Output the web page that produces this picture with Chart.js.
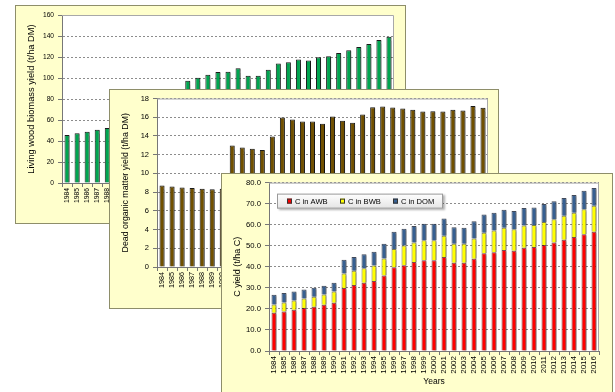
<!DOCTYPE html>
<html lang="en">
<head>
<meta charset="UTF-8">
<title>Biomass and carbon yield</title>
<script src="https://cdn.jsdelivr.net/npm/chart.js"></script>
<style>
    body {
        margin: 0;
        background: #fff;
        width: 615px;
        height: 392px;
        overflow: hidden;
        position: relative;
    }
    .panel {
        position: absolute;
        box-sizing: border-box;
        background: #ffffcc;
        border: 1px solid #8e8e6a;
    }
    .panel canvas {
        position: absolute;
        left: 0;
        top: 0;
    }
    #p1 { left: 15px; top: 5px; width: 391px; height: 219px; }
    #p2 { left: 109px; top: 89px; width: 390px; height: 220px; }
    #p3 { left: 221px; top: 173px; width: 392px; height: 222px; }
</style>
</head>
<body>
<div class="panel" id="p1"><canvas id="living" width="389" height="217"></canvas></div>
<div class="panel" id="p2"><canvas id="dead" width="388" height="218"></canvas></div>
<div class="panel" id="p3"><canvas id="carbon" width="390" height="220"></canvas></div>

<script>
    const years = ['1984', '1985', '1986', '1987', '1988', '1989', '1990', '1991', '1992', '1993', '1994',
        '1995', '1996', '1997', '1998', '1999', '2000', '2001', '2002', '2003', '2004', '2005',
        '2006', '2007', '2008', '2009', '2010', '2011', '2012', '2013', '2014', '2015', '2016'];

    // t/ha DM (1989-1995 are hidden behind the second chart, rough guesses)
    const livingWood = [45.7, 47.3, 48.9, 50.8, 52.4, 54, 57, 74, 76, 79, 81, 87,
        97.5, 100.3, 103.1, 105.7, 106.0, 109.4, 102.2, 102.2, 107.9, 113.9, 115.1, 117.6,
        116.7, 119.8, 120.8, 123.9, 126.5, 129.6, 132.4, 136.2, 139.4];

    const deadOrganic = [8.70, 8.59, 8.48, 8.45, 8.37, 8.30, 8.37, 12.97, 12.76, 12.62, 12.51,
        13.93, 15.97, 15.75, 15.54, 15.54, 15.29, 16.07, 15.61, 15.40, 16.29, 17.07, 17.14,
        17.03, 16.93, 16.79, 16.61, 16.64, 16.61, 16.79, 16.71, 17.21, 17.00];

    // t/ha C
    const cAWB = [18.2, 18.8, 19.6, 20.4, 21.0, 22.0, 22.9, 29.9, 31.3, 32.4, 33.3, 35.9,
        39.8, 40.8, 42.3, 43.1, 43.1, 44.7, 41.9, 41.9, 43.8, 46.4, 46.9, 48.0, 47.6, 49.0,
        49.4, 50.4, 51.5, 52.8, 54.2, 55.5, 56.7];
    const cBWB = [3.9, 4.3, 4.4, 4.6, 4.8, 4.9, 5.4, 6.9, 6.8, 6.9, 7.3, 8.0,
        8.7, 9.3, 9.2, 9.5, 9.5, 10.0, 9.0, 9.0, 9.6, 9.8, 10.3, 10.6, 10.2, 10.6,
        10.5, 10.9, 11.1, 11.5, 11.5, 11.8, 12.3];
    const cDOM = [4.6, 4.4, 4.3, 4.2, 4.2, 4.1, 4.1, 6.5, 6.6, 6.7, 6.5, 7.0,
        8.1, 8.0, 7.9, 7.9, 7.9, 8.2, 7.9, 7.6, 8.2, 8.7, 8.5, 8.5, 8.7, 8.3,
        8.3, 8.5, 8.6, 8.4, 8.4, 8.8, 8.4];

    const FONT = '"Liberation Sans", Arial, sans-serif';
    Chart.defaults.font.family = FONT;
    Chart.defaults.color = '#000';
    Chart.defaults.animation = false;

    // white plot area, gray frame, shadow under the bars
    const plotArea = {
        id: 'plotArea',
        beforeDraw(chart) {
            const { ctx, chartArea: a } = chart;
            ctx.save();
            ctx.fillStyle = '#fff';
            ctx.fillRect(a.left, a.top, a.width, a.height);
            ctx.restore();
        },
        beforeDatasetsDraw(chart) {
            const { ctx, chartArea: a } = chart;
            ctx.save();
            ctx.strokeStyle = '#a8a8a8';
            ctx.lineWidth = 1;
            ctx.beginPath();
            ctx.moveTo(a.left, a.top + 0.5);
            ctx.lineTo(a.right - 0.5, a.top + 0.5);
            ctx.lineTo(a.right - 0.5, a.bottom);
            ctx.stroke();
            ctx.restore();
            ctx.save();
            ctx.shadowColor = 'rgba(0,0,0,0.35)';
            ctx.shadowOffsetX = 1.5;
            ctx.shadowOffsetY = 1;
            ctx.shadowBlur = 1;
        },
        afterDatasetsDraw(chart) {
            chart.ctx.restore();
        }
    };

    const boxLegend = {
        id: 'boxLegend',
        afterDraw(chart) {
            const { ctx, chartArea: a } = chart;
            const x = a.left + 8, y = a.top + 11, w = 166, h = 15;
            ctx.save();
            ctx.shadowColor = 'rgba(0,0,0,0.3)';
            ctx.shadowOffsetX = 1.5;
            ctx.shadowOffsetY = 1.5;
            ctx.shadowBlur = 2;
            const g = ctx.createLinearGradient(0, y, 0, y + h);
            g.addColorStop(0, '#ffffff');
            g.addColorStop(1, '#e4e4e4');
            ctx.fillStyle = g;
            ctx.fillRect(x, y, w, h);
            ctx.shadowColor = 'transparent';
            ctx.strokeStyle = '#9a9a9a';
            ctx.strokeRect(x + 0.5, y + 0.5, w - 1, h - 1);
            ctx.font = '7.6px ' + FONT;
            ctx.textBaseline = 'middle';
            chart.data.datasets.forEach((ds, i) => {
                const sx = x + 10 + i * 53;
                ctx.fillStyle = ds.backgroundColor;
                ctx.fillRect(sx, y + 5, 5, 5);
                ctx.strokeStyle = '#333';
                ctx.strokeRect(sx + 0.5, y + 5.5, 4, 4);
                ctx.fillStyle = '#000';
                ctx.fillText(ds.label, sx + 8, y + h / 2 + 0.5);
            });
            ctx.restore();
        }
    };

    function axes(o) {
        const yTicks = { stepSize: o.step, padding: 4, font: { size: o.yFont } };
        if (o.fmt) yTicks.callback = o.fmt;
        return {
            x: {
                stacked: !!o.stacked,
                offset: true,
                grid: { offset: true, drawOnChartArea: false, tickLength: 4, tickColor: '#777' },
                border: { color: '#777' },
                ticks: { autoSkip: false, minRotation: 90, maxRotation: 90, padding: 1, font: { size: o.xFont } },
                title: o.xTitle
                    ? { display: true, text: o.xTitle, font: { size: 8.5 }, padding: { top: 0, bottom: 7 } }
                    : { display: false },
                afterFit: s => { s.height = o.bottom; }
            },
            y: {
                stacked: !!o.stacked,
                min: 0,
                max: o.max,
                ticks: yTicks,
                grid: { color: '#8c8c8c', tickLength: 4, tickColor: '#777' },
                border: { color: '#777', dash: [2, 2] },
                title: { display: true, text: o.yTitle, font: { size: o.titleFont }, padding: { top: 4, bottom: 4 } },
                afterFit: s => { s.width = o.left; }
            }
        };
    }

    const barStyle = { borderWidth: 1, barPercentage: 0.5, categoryPercentage: 1 };

    new Chart(document.getElementById('living'), {
        type: 'bar',
        data: {
            labels: years,
            datasets: [{ label: 'Living wood biomass', data: livingWood, backgroundColor: '#00a550', borderColor: '#1a1a1a', ...barStyle }]
        },
        options: {
            responsive: false,
            layout: { padding: { left: 6, top: 9, right: 11, bottom: 0 } },
            plugins: { legend: { display: false }, tooltip: { enabled: false } },
            scales: axes({ max: 160, step: 20, yFont: 6.6, xFont: 6.8, titleFont: 9.3, left: 40, bottom: 40,
                yTitle: 'Living wood biomass yield (t/ha DM)' })
        },
        plugins: [plotArea]
    });

    new Chart(document.getElementById('dead'), {
        type: 'bar',
        data: {
            labels: years,
            datasets: [{ label: 'Dead organic matter', data: deadOrganic, backgroundColor: '#705000', borderColor: '#1a1a1a', ...barStyle }]
        },
        options: {
            responsive: false,
            layout: { padding: { left: 6, top: 8, right: 10, bottom: 0 } },
            plugins: { legend: { display: false }, tooltip: { enabled: false } },
            scales: axes({ max: 18, step: 2, yFont: 7.5, xFont: 7.2, titleFont: 8.8, left: 41, bottom: 41,
                yTitle: 'Dead organic matter yield (t/ha DM)' })
        },
        plugins: [plotArea]
    });

    new Chart(document.getElementById('carbon'), {
        type: 'bar',
        data: {
            labels: years,
            datasets: [
                { label: 'C in AWB', data: cAWB, backgroundColor: '#ff0000', borderColor: 'rgba(70,0,0,0.7)', ...barStyle },
                { label: 'C in BWB', data: cBWB, backgroundColor: '#ffff00', borderColor: 'rgba(70,70,0,0.7)', ...barStyle },
                { label: 'C in DOM', data: cDOM, backgroundColor: '#376092', borderColor: 'rgba(20,30,50,0.8)', ...barStyle }
            ]
        },
        options: {
            responsive: false,
            layout: { padding: { left: 6, top: 8, right: 13, bottom: 0 } },
            plugins: { legend: { display: false }, tooltip: { enabled: false } },
            scales: axes({ stacked: true, max: 80, step: 10, yFont: 7.7, xFont: 8, titleFont: 9, left: 41, bottom: 43,
                fmt: v => v.toFixed(1), yTitle: 'C yield (t/ha C)', xTitle: 'Years' })
        },
        plugins: [plotArea, boxLegend]
    });
</script>
</body>
</html>
